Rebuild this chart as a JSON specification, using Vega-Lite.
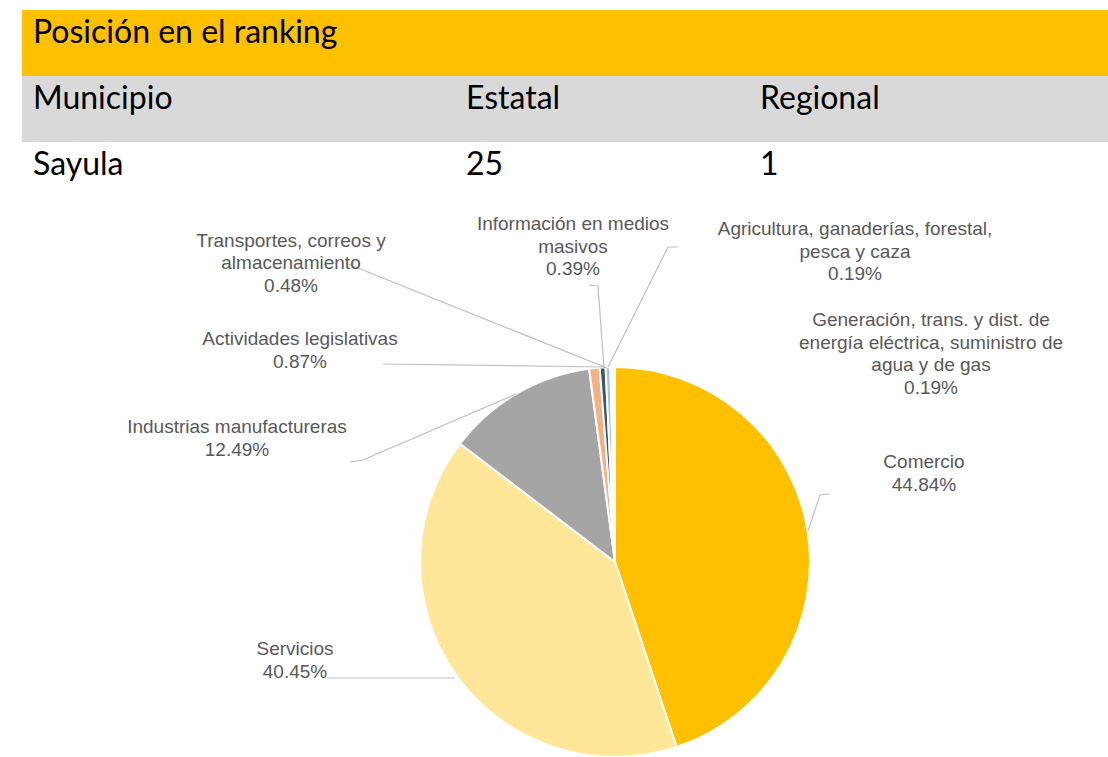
{
  "$schema": "https://vega.github.io/schema/vega-lite/v6.json",
  "background": "#ffffff",
  "padding": {"left": 22, "top": 10, "right": 0, "bottom": 0},
  "spacing": 0,
  "resolve": {"scale": {"color": "independent"}},
  "config": {"view": {"stroke": null}, "concat": {"spacing": 0}},
  "datasets": {
    "table": [
      {"col": "Municipio", "row": "1", "text": "Posición en el ranking"},
      {"col": "Municipio", "row": "2", "text": "Municipio"},
      {"col": "Municipio", "row": "3", "text": "Sayula"},
      {"col": "Estatal", "row": "1", "text": ""},
      {"col": "Estatal", "row": "2", "text": "Estatal"},
      {"col": "Estatal", "row": "3", "text": "25"},
      {"col": "Regional", "row": "1", "text": ""},
      {"col": "Regional", "row": "2", "text": "Regional"},
      {"col": "Regional", "row": "3", "text": "1"}
    ],
    "slices": [
      {"sector": "Comercio", "pct": 44.84, "ord": 1},
      {"sector": "Servicios", "pct": 40.45, "ord": 2},
      {"sector": "Industrias manufactureras", "pct": 12.49, "ord": 3},
      {"sector": "Actividades legislativas", "pct": 0.87, "ord": 4},
      {"sector": "Transportes, correos y almacenamiento", "pct": 0.48, "ord": 5},
      {"sector": "Información en medios masivos", "pct": 0.39, "ord": 6},
      {"sector": "Agricultura, ganaderías, forestal, pesca y caza", "pct": 0.19, "ord": 7},
      {"sector": "Generación, trans. y dist. de energía eléctrica, suministro de agua y de gas", "pct": 0.19, "ord": 8}
    ],
    "labels": [
      {"label": "Comercio\n44.84%", "u": 1.5846, "v": -0.5128},
      {"label": "Servicios\n40.45%", "u": -1.641, "v": 0.4462},
      {"label": "Industrias manufactureras\n12.49%", "u": -1.9385, "v": -0.6923},
      {"label": "Actividades legislativas\n0.87%", "u": -1.6154, "v": -1.1436},
      {"label": "Transportes, correos y\nalmacenamiento\n0.48%", "u": -1.6615, "v": -1.6462},
      {"label": "Información en medios\nmasivos\n0.39%", "u": -0.2154, "v": -1.7333},
      {"label": "Agricultura, ganaderías, forestal,\npesca y caza\n0.19%", "u": 1.2308, "v": -1.7077},
      {"label": "Generación, trans. y dist. de\nenergía eléctrica, suministro de\nagua y de gas\n0.19%", "u": 1.6205, "v": -1.241}
    ],
    "leaders": [
      {"lead": "Comercio", "i": 0, "u": 1.1026, "v": -0.3487},
      {"lead": "Comercio", "i": 1, "u": 1.0513, "v": -0.3436},
      {"lead": "Comercio", "i": 2, "u": 0.9897, "v": -0.159},
      {"lead": "Servicios", "i": 0, "u": -1.4769, "v": 0.5949},
      {"lead": "Servicios", "i": 1, "u": -0.8205, "v": 0.5949},
      {"lead": "Industrias", "i": 0, "u": -1.359, "v": -0.5128},
      {"lead": "Industrias", "i": 1, "u": -1.2923, "v": -0.5231},
      {"lead": "Industrias", "i": 2, "u": -0.5077, "v": -0.8615},
      {"lead": "Actividades", "i": 0, "u": -1.1897, "v": -1.0154},
      {"lead": "Actividades", "i": 1, "u": -0.0513, "v": -1.0},
      {"lead": "Transportes", "i": 0, "u": -1.3692, "v": -1.5282},
      {"lead": "Transportes", "i": 1, "u": -0.041, "v": -0.9949},
      {"lead": "Informacion", "i": 0, "u": -0.1333, "v": -1.4205},
      {"lead": "Informacion", "i": 1, "u": -0.0872, "v": -1.4154},
      {"lead": "Informacion", "i": 2, "u": -0.0564, "v": -0.9949},
      {"lead": "Agricultura", "i": 0, "u": 0.3231, "v": -1.6154},
      {"lead": "Agricultura", "i": 1, "u": 0.2718, "v": -1.6154},
      {"lead": "Agricultura", "i": 2, "u": -0.0359, "v": -1.0}
    ]
  },
  "vconcat": [
    {
      "spacing": 0,
      "hconcat": [
        {
          "width": 433, "height": 198,
          "data": {"name": "table"},
          "transform": [{"filter": "datum.col === 'Municipio'"}],
          "encoding": {"y": {"field": "row", "type": "nominal", "axis": null, "scale": {"domain": ["1", "2", "3"], "paddingInner": 0, "paddingOuter": 0}}},
          "layer": [
            {"mark": {"type": "rect"}, "encoding": {"color": {"field": "row", "type": "nominal", "legend": null, "scale": {"domain": ["1", "2", "3"], "range": ["#FFC000", "#D9D9D9", "#FFFFFF"]}}}},
            {"mark": {"type": "text", "align": "left", "baseline": "middle", "dx": 11, "dy": -10, "font": "Lato", "fontSize": 32, "color": "#000000"}, "encoding": {"x": {"value": 0}, "text": {"field": "text"}}}
          ]
        },
        {
          "width": 294, "height": 198,
          "data": {"name": "table"},
          "transform": [{"filter": "datum.col === 'Estatal'"}],
          "encoding": {"y": {"field": "row", "type": "nominal", "axis": null, "scale": {"domain": ["1", "2", "3"], "paddingInner": 0, "paddingOuter": 0}}},
          "layer": [
            {"mark": {"type": "rect"}, "encoding": {"color": {"field": "row", "type": "nominal", "legend": null, "scale": {"domain": ["1", "2", "3"], "range": ["#FFC000", "#D9D9D9", "#FFFFFF"]}}}},
            {"mark": {"type": "text", "align": "left", "baseline": "middle", "dx": 11, "dy": -10, "font": "Lato", "fontSize": 32, "color": "#000000"}, "encoding": {"x": {"value": 0}, "text": {"field": "text"}}}
          ]
        },
        {
          "width": 359, "height": 198,
          "data": {"name": "table"},
          "transform": [{"filter": "datum.col === 'Regional'"}],
          "encoding": {"y": {"field": "row", "type": "nominal", "axis": null, "scale": {"domain": ["1", "2", "3"], "paddingInner": 0, "paddingOuter": 0}}},
          "layer": [
            {"mark": {"type": "rect"}, "encoding": {"color": {"field": "row", "type": "nominal", "legend": null, "scale": {"domain": ["1", "2", "3"], "range": ["#FFC000", "#D9D9D9", "#FFFFFF"]}}}},
            {"mark": {"type": "text", "align": "left", "baseline": "middle", "dx": 11, "dy": -10, "font": "Lato", "fontSize": 32, "color": "#000000"}, "encoding": {"x": {"value": 0}, "text": {"field": "text"}}}
          ]
        }
      ]
    },
    {
      "width": 1086, "height": 549,
      "layer": [
        {
          "data": {"name": "slices"},
          "mark": {"type": "arc", "outerRadius": 195, "stroke": "#ffffff", "strokeWidth": 2},
          "encoding": {
            "theta": {"field": "pct", "type": "quantitative", "stack": true},
            "order": {"field": "ord", "type": "quantitative", "sort": "ascending"},
            "color": {"field": "sector", "type": "nominal", "legend": null, "scale": {
              "domain": ["Comercio", "Servicios", "Industrias manufactureras", "Actividades legislativas", "Transportes, correos y almacenamiento", "Información en medios masivos", "Agricultura, ganaderías, forestal, pesca y caza", "Generación, trans. y dist. de energía eléctrica, suministro de agua y de gas"],
              "range": ["#FFC000", "#FFE699", "#A5A5A5", "#F4B183", "#44546A", "#9DC3E6", "#C9C9C9", "#FFF2CC"]}},
            "x": {"datum": 0, "type": "quantitative", "axis": null, "scale": {"domain": [-3.041, 2.5282], "nice": false, "zero": false}},
            "y": {"datum": 0, "type": "quantitative", "axis": null, "scale": {"domain": [-1.8154, 1.0], "reverse": true, "nice": false, "zero": false}}
          }
        },
        {
          "data": {"name": "leaders"},
          "mark": {"type": "line", "color": "#BFBFBF", "strokeWidth": 1.2},
          "encoding": {
            "x": {"field": "u", "type": "quantitative", "axis": null, "scale": {"domain": [-3.041, 2.5282], "nice": false, "zero": false}},
            "y": {"field": "v", "type": "quantitative", "axis": null, "scale": {"domain": [-1.8154, 1.0], "reverse": true, "nice": false, "zero": false}},
            "detail": {"field": "lead", "type": "nominal"},
            "order": {"field": "i", "type": "quantitative"}
          }
        },
        {
          "data": {"name": "labels"},
          "mark": {"type": "text", "align": "center", "baseline": "middle", "lineBreak": "\n", "lineHeight": 22.5, "font": "Liberation Sans", "fontSize": 19, "color": "#595959"},
          "encoding": {
            "x": {"field": "u", "type": "quantitative", "axis": null, "scale": {"domain": [-3.041, 2.5282], "nice": false, "zero": false}},
            "y": {"field": "v", "type": "quantitative", "axis": null, "scale": {"domain": [-1.8154, 1.0], "reverse": true, "nice": false, "zero": false}},
            "text": {"field": "label", "type": "nominal"}
          }
        }
      ]
    }
  ]
}
